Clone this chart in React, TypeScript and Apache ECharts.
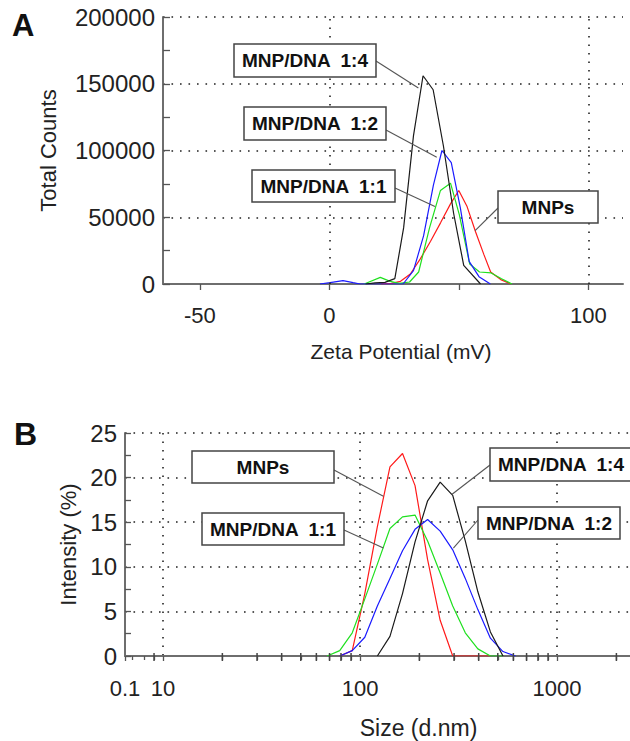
import React, { useEffect, useRef } from 'react';
import * as echarts from 'echarts';

// ---------- Panel A: zeta potential (mV) vs total counts ----------
const zetaMNPsX = [20, 24, 27.5, 31.3, 35.2, 39.1, 43.0, 46.8, 50.0, 53.2, 56.5, 59.7, 62.3, 66.2, 70.1];
const zetaMNPsY = [0, 500, 2000, 7500, 19000, 32000, 46000, 60000, 70000, 58000, 39000, 22000, 9000, 3300, 0];

const zeta11X = [13.5, 19.7, 23.5, 27.0, 31.0, 34.5, 38.7, 42.9, 46.8, 50.2, 54.2, 58.0, 62.5, 66.5, 70.5];
const zeta11Y = [0, 5000, 2000, 500, 1500, 9000, 42000, 70000, 75500, 52000, 15000, 9000, 8300, 4000, 0];

const zeta12X = [-3.6, 0.3, 5.3, 9.2, 11.9, 28.5, 32.5, 36.4, 40.2, 43.5, 47.1, 50.6, 54.0, 57.8, 62.2];
const zeta12Y = [0, 1000, 2500, 1000, 0, 0, 10000, 36000, 74000, 100000, 91000, 57000, 17000, 5500, 0];

const zeta14X = [14, 17.7, 21.5, 25.3, 28.7, 32.5, 36.2, 40.1, 44.1, 48.0, 51.9, 58.4];
const zeta14Y = [0, 900, 1200, 4000, 42000, 111000, 156000, 145500, 103000, 53000, 14000, 0];

const zetaLabelValues = [-50, 0, 100];
const zetaGridX = [0, 100];

// ---------- Panel B: size distribution (d.nm) vs intensity (%) ----------
const sizeBins = [68.06, 78.82, 91.28, 105.7, 122.4, 141.8, 164.2, 190.1, 220.2, 255.0, 295.3, 342.0, 396.1, 458.7, 531.2, 615.1];
const intensityMNPs = [null, 0, 0.6, 7.0, 14.5, 21.2, 22.7, 19.1, 10.8, 4.0, 0, 0, 0, 0, null, null];
const intensity11 = [0, 0.6, 2.6, 6.4, 10.3, 14.3, 15.6, 15.8, 12.9, 9.3, 5.6, 2.6, 0.8, 0, 0, null];
const intensity12 = [null, 0, 0.6, 2.1, 5.6, 8.7, 11.8, 14.2, 15.3, 14.0, 11.9, 8.7, 5.2, 2.0, 0.5, 0];
const intensity14 = [null, null, null, null, 0, 2.2, 7.0, 12.8, 17.4, 19.5, 18.0, 12.9, 7.2, 2.7, 0, null];

const sizeMinorTicks = [9, 20, 30, 40, 50, 60, 70, 80, 90, 200, 300, 400, 500, 600, 700, 800, 900, 2000];

// ---------- colours ----------
const COLORS = { mnps: '#ff1a1a', r11: '#1fe01f', r12: '#1a1aff', r14: '#1a1a1a' };

// ---------- annotation layout (boxes in px, tips in data coordinates) ----------
const annotations = [
  { grid: 0, text: 'MNP/DNA  1:4', box: [234, 44, 142, 33], start: [376, 61], tip: [34.4, 146800] },
  { grid: 0, text: 'MNP/DNA  1:2', box: [244, 107, 142, 33], start: [386, 130], tip: [41.5, 95000] },
  { grid: 0, text: 'MNP/DNA  1:1', box: [252, 170, 143, 32], start: [395, 188], tip: [40.8, 58000] },
  { grid: 0, text: 'MNPs', box: [498, 191, 100, 32], start: [498, 208], tip: [56.3, 40000] },
  { grid: 1, text: 'MNPs', box: [192, 451, 142, 32], start: [334, 470], tip: [131.3, 17.9] },
  { grid: 1, text: 'MNP/DNA  1:1', box: [202, 513, 142, 32], start: [344, 530], tip: [131.3, 12.1] },
  { grid: 1, text: 'MNP/DNA  1:4', box: [490, 448, 142, 33], start: [490, 465], tip: [292, 18.1] },
  { grid: 1, text: 'MNP/DNA  1:2', box: [478, 507, 142, 32], start: [478, 520], tip: [297.6, 12.1] },
];

const FONT = "'Liberation Sans', Arial, sans-serif";
const pairs = (xs: number[], ys: (number | null)[]) => xs.map((x, i) => [x, ys[i]]);

export default function App() {
  const ref = useRef<HTMLDivElement>(null);
  useEffect(() => {
    if (!ref.current) return;
    const chart = echarts.init(ref.current, undefined, { renderer: 'svg' });
    const dotted = { type: [1.6, 6.9] as any, color: '#222', width: 1.6 };
    const axisLineStyle = { color: '#6e6e6e', width: 2 };
    const tickStyle = { color: '#555', width: 1.3 };
    const lineSeries = (name: string, data: any[], color: string, idx: number, extra: any = {}) => ({
      name,
      type: 'line',
      xAxisIndex: idx,
      yAxisIndex: idx,
      data,
      showSymbol: false,
      symbol: 'none',
      connectNulls: false,
      lineStyle: { color, width: 1.2 },
      itemStyle: { color },
      silent: true,
      ...extra,
    });

    const option: any = {
      animation: false,
      backgroundColor: '#ffffff',
      grid: [
        { left: 163, top: 17, width: 460, height: 267, containLabel: false, outerBoundsMode: 'none' },
        { left: 125, top: 433, width: 507, height: 223, containLabel: false, outerBoundsMode: 'none' },
      ],
      xAxis: [
        {
          gridIndex: 0,
          type: 'value',
          min: -64.2,
          max: 113.4,
          splitNumber: 4,
          axisLine: { show: true, onZero: false, lineStyle: axisLineStyle },
          axisTick: { show: true, length: 6, lineStyle: tickStyle },
          axisLabel: {
            show: true,
            margin: 20,
            fontSize: 22,
            color: '#222',
            fontFamily: FONT,
            showMinLabel: false,
            showMaxLabel: false,
            formatter: (v: number) => (zetaLabelValues.includes(Math.round(v)) ? String(Math.round(v)) : ''),
          },
          splitLine: { show: false },
          name: 'Zeta Potential (mV)',
          nameLocation: 'middle',
          nameGap: 57,
          nameTextStyle: { fontSize: 21, color: '#222', fontFamily: FONT, padding: [0, 0, 0, 16] },
        },
        {
          gridIndex: 1,
          type: 'log',
          logBase: 10,
          min: 6.41,
          max: 2400,
          axisLine: { show: true, onZero: false, lineStyle: axisLineStyle },
          axisTick: { show: true, length: 5, lineStyle: tickStyle },
          minorTick: { show: true, splitNumber: 9, length: 4, lineStyle: tickStyle },
          axisLabel: {
            show: true,
            margin: 21,
            fontSize: 22,
            color: '#222',
            fontFamily: FONT,
            showMaxLabel: false,
            formatter: (v: number) => (v < 9 ? '0.1' : v > 1500 ? '' : String(Math.round(v))),
          },
          splitLine: { show: true, lineStyle: dotted },
          name: 'Size (d.nm)',
          nameLocation: 'middle',
          nameGap: 60,
          nameTextStyle: { fontSize: 23, color: '#222', fontFamily: FONT, padding: [0, 0, 0, 80] },
        },
      ],
      yAxis: [
        {
          gridIndex: 0,
          type: 'value',
          min: 0,
          max: 200000,
          interval: 50000,
          axisLine: { show: true, onZero: false, lineStyle: axisLineStyle },
          axisTick: { show: true, inside: true, length: 7, lineStyle: tickStyle },
          minorTick: { show: true, splitNumber: 2, length: 7, lineStyle: tickStyle },
          axisLabel: { margin: 8, fontSize: 24, color: '#222', fontFamily: FONT, formatter: (v: number) => String(v) },
          splitLine: { show: true, lineStyle: dotted },
          name: 'Total Counts',
          nameLocation: 'middle',
          nameGap: 104,
          nameTextStyle: { fontSize: 22, color: '#222', fontFamily: FONT },
        },
        {
          gridIndex: 1,
          type: 'value',
          min: 0,
          max: 25,
          interval: 5,
          axisLine: { show: true, onZero: false, lineStyle: axisLineStyle },
          axisTick: { show: true, inside: true, length: 6, lineStyle: tickStyle },
          minorTick: { show: true, splitNumber: 2, length: 6, lineStyle: tickStyle },
          axisLabel: { margin: 8, fontSize: 24, color: '#222', fontFamily: FONT },
          splitLine: { show: true, lineStyle: dotted },
          name: 'Intensity (%)',
          nameLocation: 'middle',
          nameGap: 44,
          nameTextStyle: { fontSize: 22, color: '#222', fontFamily: FONT },
        },
      ],
      series: [
        lineSeries('MNPs', pairs(zetaMNPsX, zetaMNPsY), COLORS.mnps, 0, {
          markLine: {
            silent: true,
            symbol: 'none',
            label: { show: false },
            lineStyle: dotted,
            data: zetaGridX.map((v) => ({ xAxis: v })),
          },
        }),
        lineSeries('MNP/DNA 1:1', pairs(zeta11X, zeta11Y), COLORS.r11, 0),
        lineSeries('MNP/DNA 1:2', pairs(zeta12X, zeta12Y), COLORS.r12, 0),
        lineSeries('MNP/DNA 1:4', pairs(zeta14X, zeta14Y), COLORS.r14, 0),
        lineSeries('MNPs ', pairs(sizeBins, intensityMNPs), COLORS.mnps, 1),
        lineSeries('MNP/DNA 1:1 ', pairs(sizeBins, intensity11), COLORS.r11, 1),
        lineSeries('MNP/DNA 1:2 ', pairs(sizeBins, intensity12), COLORS.r12, 1),
        lineSeries('MNP/DNA 1:4 ', pairs(sizeBins, intensity14), COLORS.r14, 1),
        {
          name: 'minor ticks',
          type: 'scatter',
          xAxisIndex: 1,
          yAxisIndex: 1,
          data: sizeMinorTicks.map((v) => [v, 0]),
          symbol: 'rect',
          symbolSize: [1.5, 8],
          symbolOffset: [0, 1],
          itemStyle: { color: '#444', opacity: 1 },
          clip: false,
          z: 20,
        },
      ],
    };
    chart.setOption(option);

    const graphics: any[] = [
      { type: 'text', left: 12, top: 10, style: { text: 'A', fontSize: 31, fontWeight: 'bold', fontFamily: FONT, fill: '#111' } },
      { type: 'text', left: 14, top: 418, style: { text: 'B', fontSize: 32, fontWeight: 'bold', fontFamily: FONT, fill: '#111' } },
    ];
    annotations.forEach((a) => {
      const tip = chart.convertToPixel({ xAxisIndex: a.grid, yAxisIndex: a.grid } as any, a.tip) as number[];
      const [bx, by, bw, bh] = a.box;
      graphics.push({
        type: 'line',
        shape: { x1: a.start[0], y1: a.start[1], x2: tip[0], y2: tip[1] },
        style: { stroke: '#555', lineWidth: 1.1 },
        z: 10,
        silent: true,
      });
      graphics.push({
        type: 'rect',
        shape: { x: bx, y: by, width: bw, height: bh },
        style: { fill: '#fff', stroke: '#444', lineWidth: 1.5 },
        z: 11,
        silent: true,
      });
      graphics.push({
        type: 'text',
        x: bx + bw / 2,
        y: by + bh / 2,
        style: {
          text: a.text,
          fontSize: 19,
          fontWeight: 'bold',
          fontFamily: FONT,
          fill: '#111',
          align: 'center',
          verticalAlign: 'middle',
        },
        z: 12,
        silent: true,
      });
    });
    chart.setOption({ graphic: graphics });

    return () => chart.dispose();
  }, []);

  return (
    <div
      ref={ref}
      style={{ position: 'fixed', left: 0, top: 0, width: 630, height: 741, background: '#fff' }}
    />
  );
}
